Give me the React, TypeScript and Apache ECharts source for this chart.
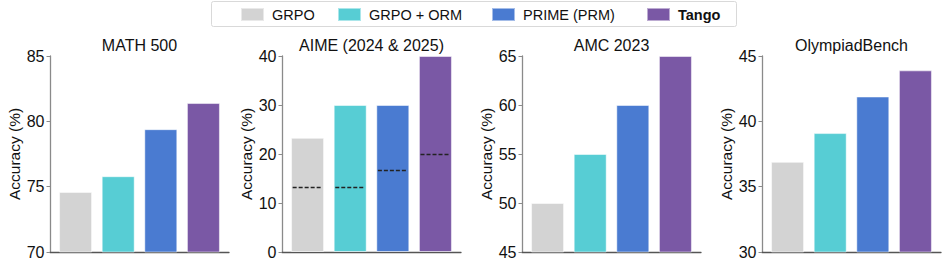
import React, { useEffect, useRef } from "react";
import * as echarts from "echarts";

const methods = ["GRPO", "GRPO + ORM", "PRIME (PRM)", "Tango"];
const methodColors = ["#d3d3d3", "#57cdd4", "#4a7bd1", "#7a58a5"];
const panelTitles = ["MATH 500", "AIME (2024 & 2025)", "AMC 2023", "OlympiadBench"];
const math500 = [74.6, 75.8, 79.4, 81.4];
const aime = [23.3, 30.0, 30.0, 40.0];
const aimeDashed = [13.3, 13.3, 16.7, 20.0];
const amc2023 = [50.0, 55.0, 60.0, 65.0];
const olympiad = [36.9, 39.1, 41.9, 43.9];
const panelValues = [math500, aime, amc2023, olympiad];
const yMins = [70, 0, 45, 30];
const yMaxs = [85, 40, 65, 45];
const yIntervals = [5, 10, 5, 5];

const FONT = "'Liberation Sans', Arial, Helvetica, sans-serif";
const gridLefts = [50, 282, 522, 762];
const gridWidth = 179;
const gridTop = 56;
const gridHeight = 196;
const legendLefts = [240, 337, 491, 646];

export default function App() {
  const ref = useRef<HTMLDivElement>(null);
  useEffect(() => {
    if (!ref.current) return;
    const chart = echarts.init(ref.current, null, { renderer: "svg" });

    const grids = gridLefts.map((l) => ({ left: l, top: gridTop, width: gridWidth, height: gridHeight }));
    const xAxes = gridLefts.map((_, p) => ({
      type: "value",
      gridIndex: p,
      min: -0.6,
      max: 3.6,
      axisLine: { show: true, onZero: false, lineStyle: { color: "#555", width: 1.3 } },
      axisTick: { show: false },
      axisLabel: { show: false },
      splitLine: { show: false },
    }));
    const yAxes = gridLefts.map((_, p) => ({
      type: "value",
      gridIndex: p,
      min: yMins[p],
      max: yMaxs[p],
      interval: yIntervals[p],
      name: "Accuracy (%)",
      nameLocation: "middle",
      nameGap: 27,
      nameRotate: 90,
      nameTextStyle: { fontSize: 15.5, color: "#111", fontFamily: FONT },
      axisLine: { show: true, onZero: false, lineStyle: { color: "#8a8a8a", width: 1.3 } },
      axisTick: { show: true, length: 3.5, lineStyle: { color: "#8a8a8a", width: 1 } },
      axisLabel: { fontSize: 16, color: "#111", fontFamily: FONT, margin: 5.5 },
      splitLine: { show: false },
    }));

    const series: any[] = [];
    panelValues.forEach((vals, p) => {
      methods.forEach((m, i) => {
        const s: any = {
          type: "bar",
          name: m,
          xAxisIndex: p,
          yAxisIndex: p,
          barWidth: 33,
          barGap: "-100%",
          data: [[i, vals[i]]],
          itemStyle: { color: methodColors[i], borderColor: "rgba(255,255,255,0.5)", borderWidth: 1 },
        };
        if (p === 1) {
          s.markLine = {
            silent: true,
            symbol: ["none", "none"],
            label: { show: false },
            lineStyle: { type: [4, 2], color: "#222", width: 1.4 },
            data: [[{ coord: [i - 0.35, aimeDashed[i]] }, { coord: [i + 0.35, aimeDashed[i]] }]],
          };
        }
        series.push(s);
      });
    });

    const titles = panelTitles.map((t, p) => ({
      text: t,
      left: gridLefts[p] + gridWidth / 2,
      textAlign: "center",
      top: 37,
      padding: 0,
      textStyle: { fontSize: 16, fontWeight: "normal", color: "#111", fontFamily: FONT },
    }));

    const legends = methods.map((m, i) => ({
      left: legendLefts[i],
      top: 7,
      padding: 0,
      icon: "rect",
      itemWidth: 23,
      itemHeight: 13,
      selectedMode: false,
      data: [
        {
          name: m,
          textStyle: {
            fontSize: 14.5,
            color: "#111",
            fontFamily: FONT,
            fontWeight: i === 3 ? "bold" : "normal",
            padding: [0, 0, 0, 3],
          },
        },
      ],
    }));

    chart.setOption({
      animation: false,
      backgroundColor: "#fff",
      title: titles,
      legend: legends,
      grid: grids,
      xAxis: xAxes,
      yAxis: yAxes,
      series,
      graphic: [
        {
          type: "rect",
          z: -10,
          silent: true,
          shape: { x: 211.5, y: 1.5, width: 525, height: 25, r: 2 },
          style: { fill: "transparent", stroke: "#d9d9d9", lineWidth: 1 },
        },
      ],
    });
    return () => chart.dispose();
  }, []);
  return <div ref={ref} style={{ position: "fixed", left: 0, top: 0, width: 947, height: 268 }} />;
}
